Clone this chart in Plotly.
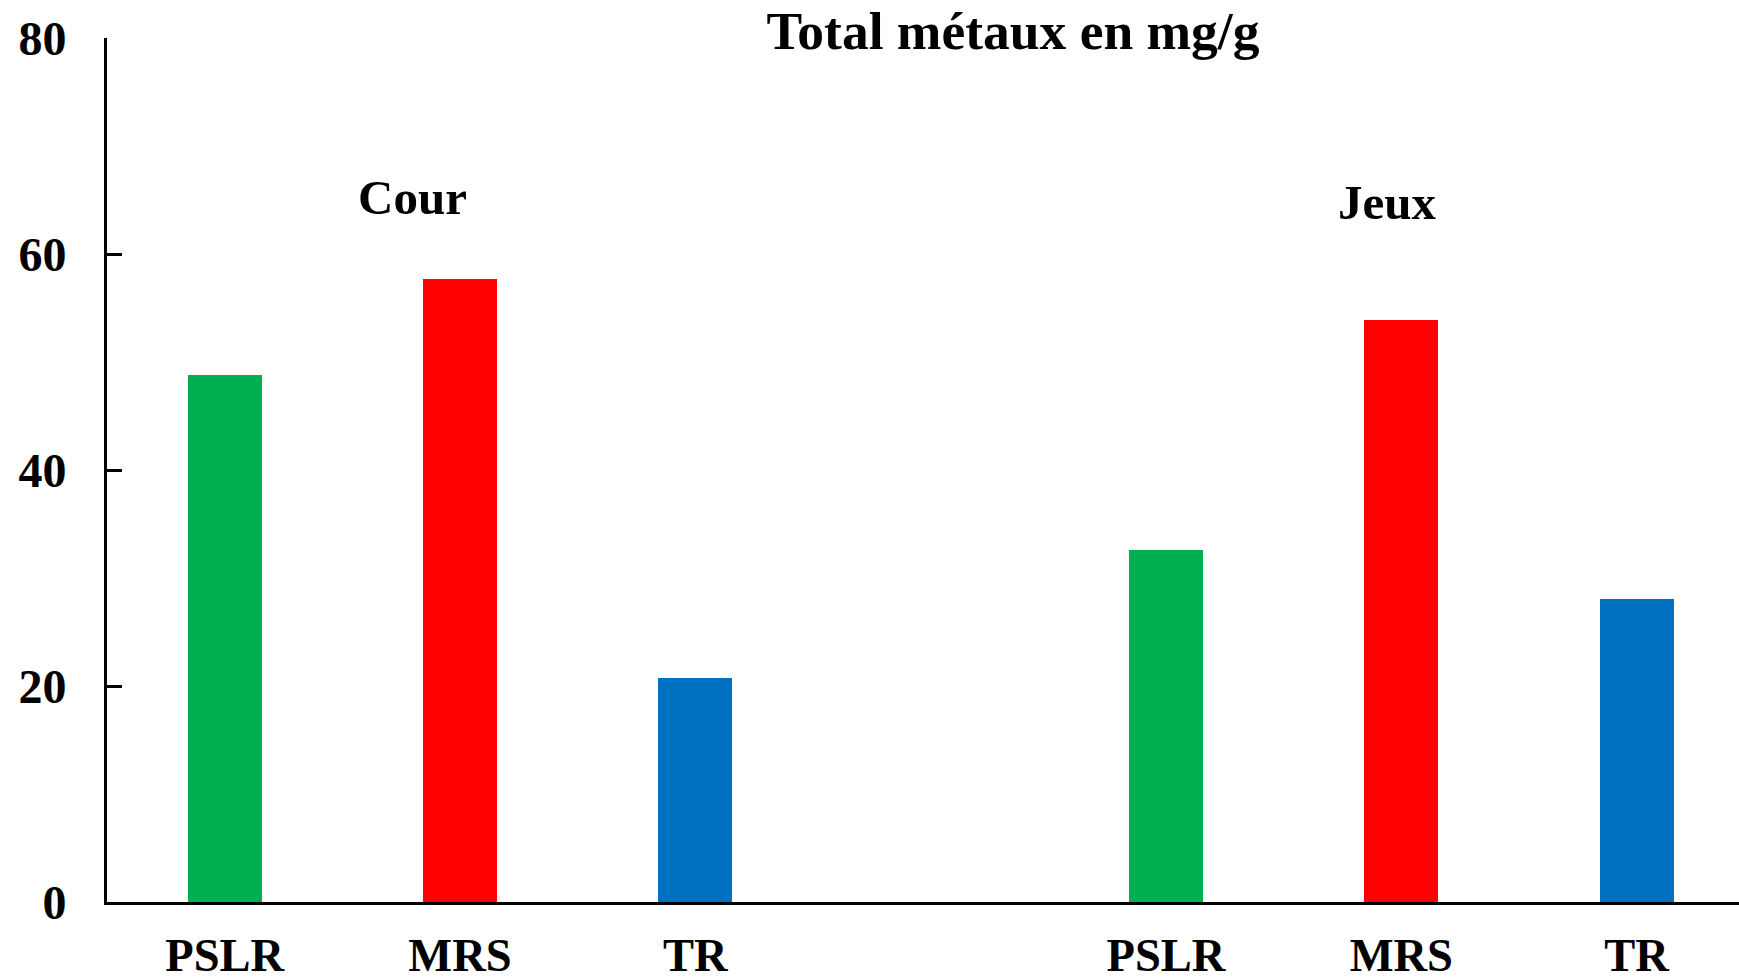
import plotly.graph_objects as go

# Total metal content (mg/g) per site, for the two sampling areas
groups = ["Cour", "Jeux"]
sites = ["PSLR", "MRS", "TR"]
cour = [48.8, 57.7, 20.7]
jeux = [32.6, 53.9, 28.1]
site_colors = ["#00B050", "#FF0000", "#0070C0"]

y_ticks = [0, 20, 40, 60, 80]

FONT = "Liberation Serif"
GROUP_STEP = 4  # three bars plus one empty slot between the two areas

fig = go.Figure()
tick_pos, tick_txt = [], []
for gi, (name, vals) in enumerate(zip(groups, [cour, jeux])):
    xs = [gi * GROUP_STEP + i for i in range(len(sites))]
    fig.add_trace(go.Bar(
        x=xs, y=vals, name=name,
        marker=dict(color=site_colors, line=dict(width=0)),
        width=0.315, showlegend=False,
    ))
    tick_pos += xs
    tick_txt += sites

# Area labels placed above each group
fig.add_annotation(x=0.8, y=65.2, xref="x", yref="y", text="Cour",
                   showarrow=False, font=dict(family=FONT, size=49, color="black", weight="bold"))
fig.add_annotation(x=4.94, y=64.8, xref="x", yref="y", text="Jeux",
                   showarrow=False, font=dict(family=FONT, size=49, color="black", weight="bold"))

fig.update_layout(
    width=1739, height=980,
    margin=dict(l=107, r=0, t=38, b=78),
    paper_bgcolor="white", plot_bgcolor="white",
    title=dict(text="Total métaux en mg/g", x=1013 / 1739, xanchor="center",
               y=1 - 30 / 980, yanchor="middle",
               font=dict(family=FONT, size=53.5, color="black", weight="bold")),
    xaxis=dict(range=[-0.5, 6.435], tickvals=tick_pos, ticktext=tick_txt,
               showgrid=False, zeroline=False, showline=True, linecolor="black",
               linewidth=3, ticks="", ticklabelstandoff=10, automargin=False,
               tickfont=dict(family=FONT, size=46.5, color="black", weight="bold")),
    yaxis=dict(range=[0, 80], tickvals=y_ticks, showgrid=False, zeroline=False,
               showline=True, linecolor="black", linewidth=3,
               ticks="inside", ticklen=15, tickwidth=3, tickcolor="black",
               ticklabelstandoff=28, automargin=False,
               tickfont=dict(family=FONT, size=48, color="black", weight="bold")),
    bargap=0,
)

fig.write_html("out.html")
